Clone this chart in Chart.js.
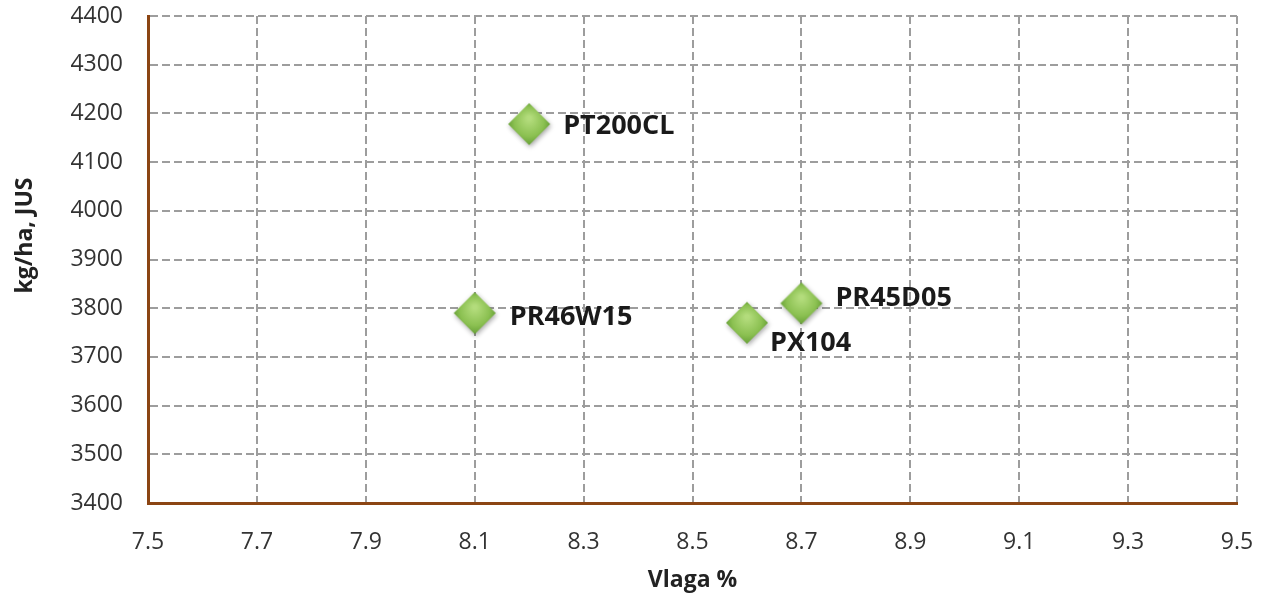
<!DOCTYPE html>
<html>
<head>
<meta charset="utf-8">
<script src="https://cdn.jsdelivr.net/npm/chart.js@4"></script>
<style>
  html, body { margin: 0; padding: 0; background: #fff; }
  #wrap { width: 1261px; height: 597px; position: relative; }
</style>
</head>
<body>
<div id="wrap"><canvas id="c"></canvas></div>
<script>
// ---- data ----
const hybrids = ["PT200CL", "PR46W15", "PX104", "PR45D05"];
const moisture = [8.2, 8.1, 8.6, 8.7];      // Vlaga %
const yieldKg = [4178, 3790, 3770, 3810];   // kg/ha, JUS
const xTicks = [7.5, 7.7, 7.9, 8.1, 8.3, 8.5, 8.7, 8.9, 9.1, 9.3, 9.5];
const yTicks = [3400, 3500, 3600, 3700, 3800, 3900, 4000, 4100, 4200, 4300, 4400];
const xTitle = "Vlaga %";
const yTitle = "kg/ha, JUS";

// ---- marker image (shaded green diamond) ----
function makeDiamond() {
  const s = 58, c = s / 2, r = 21;
  const cv = document.createElement('canvas');
  cv.width = s; cv.height = s;
  const g = cv.getContext('2d');
  g.save();
  g.shadowColor = 'rgba(0,0,0,0.35)';
  g.shadowBlur = 5;
  g.shadowOffsetX = 1;
  g.shadowOffsetY = 2;
  g.beginPath();
  g.moveTo(c, c - r); g.lineTo(c + r, c); g.lineTo(c, c + r); g.lineTo(c - r, c); g.closePath();
  const grad = g.createRadialGradient(c, c - 6, 2, c, c, r + 2);
  grad.addColorStop(0, '#b3dc7c');
  grad.addColorStop(0.6, '#8cc152');
  grad.addColorStop(1, '#5f9931');
  g.fillStyle = grad;
  g.fill();
  g.restore();
  return cv;
}
const diamond = makeDiamond();

const pointLabels = {
  id: 'pointLabels',
  afterDatasetsDraw(chart, args, opts) {
    const ctx = chart.ctx;
    const meta = chart.getDatasetMeta(0);
    ctx.save();
    ctx.font = opts.font;
    ctx.fillStyle = opts.color;
    ctx.textAlign = 'left';
    ctx.textBaseline = 'middle';
    meta.data.forEach((el, i) => {
      const off = opts.offsets[i];
      ctx.fillText(hybrids[i], el.x + off[0], el.y + off[1]);
    });
    ctx.restore();
  }
};

const axisTitles = {
  id: 'axisTitles',
  afterDraw(chart, args, opts) {
    const ctx = chart.ctx;
    const a = chart.chartArea;
    ctx.save();
    ctx.font = opts.font;
    ctx.fillStyle = opts.color;
    ctx.textAlign = 'center';
    ctx.textBaseline = 'middle';
    ctx.fillText(xTitle, (a.left + a.right) / 2, opts.xTitleY);
    ctx.translate(opts.yTitleX, (a.top + a.bottom) / 2 + opts.yTitleShift);
    ctx.rotate(-Math.PI / 2);
    ctx.fillText(yTitle, 0, 0);
    ctx.restore();
  }
};

const zeroPad = s => { s.paddingLeft = 0; s.paddingRight = 0; s.paddingTop = 0; s.paddingBottom = 0; };
const gridCommon = { color: '#9d9d9d', lineWidth: 2, drawTicks: false };
const borderCommon = { color: '#8b4513', width: 3, dash: [8, 4] };

new Chart(document.getElementById('c'), {
  type: 'scatter',
  data: {
    datasets: [{
      data: moisture.map((x, i) => ({ x: x, y: yieldKg[i] })),
      pointStyle: diamond,
      pointRadius: 21,
      pointHoverRadius: 21
    }]
  },
  options: {
    responsive: true,
    maintainAspectRatio: false,
    devicePixelRatio: 1,
    animation: false,
    events: [],
    layout: { autoPadding: false, padding: { left: 0, right: 24, top: 16, bottom: 0 } },
    plugins: {
      legend: { display: false },
      tooltip: { enabled: false },
      pointLabels: {
        font: 'bold 27px "Open Sans"',
        color: '#1a1a1a',
        offsets: [[34, 2], [35, 4], [23, 21], [34, -5]]
      },
      axisTitles: {
        font: 'bold 23px "Open Sans"',
        color: '#222',
        xTitleY: 580,
        yTitleX: 25,
        yTitleShift: -24
      }
    },
    scales: {
      x: {
        type: 'linear',
        min: 7.5, max: 9.5,
        afterBuildTicks: s => { s.ticks = xTicks.map(v => ({ value: v })); },
        afterFit: s => { s.height = 94; zeroPad(s); },
        grid: gridCommon,
        border: borderCommon,
        ticks: {
          font: { family: '"Open Sans"', size: 23 },
          color: '#333',
          padding: 26,
          maxRotation: 0,
          callback: v => v.toFixed(1)
        }
      },
      y: {
        type: 'linear',
        min: 3400, max: 4400,
        afterBuildTicks: s => { s.ticks = yTicks.map(v => ({ value: v })); },
        afterFit: s => { s.width = 148; zeroPad(s); },
        grid: gridCommon,
        border: borderCommon,
        ticks: {
          font: { family: '"Open Sans"', size: 23 },
          color: '#333',
          padding: 25,
          callback: v => String(v)
        }
      }
    }
  },
  plugins: [pointLabels, axisTitles]
});
</script>
</body>
</html>
